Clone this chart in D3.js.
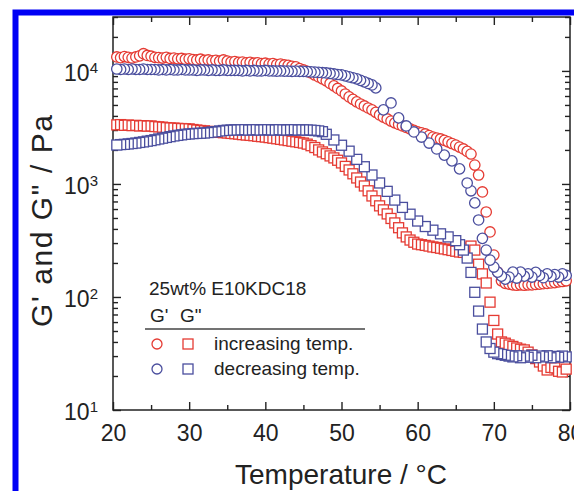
<!DOCTYPE html>
<html>
<head>
<meta charset="utf-8">
<script src="https://cdn.jsdelivr.net/npm/d3@7"></script>
<style>
  body { margin: 0; background: #fff; }
  svg { display: block; font-family: "Liberation Sans", Arial, Helvetica, sans-serif; }
</style>
</head>
<body>
<div id="app"></div>
<script>
// temperatures (°C) shared by all four runs
const temps = [
  20.5,21,21.5,22,22.5,23,23.5,24,24.5,25,
  25.5,26,26.5,27,27.5,28,28.5,29,29.5,30,
  30.5,31,31.5,32,32.5,33,33.5,34,34.5,35,
  35.5,36,36.5,37,37.5,38,38.5,39,39.5,40,
  40.5,41,41.5,42,42.5,43,43.5,44,44.5,45,
  45.5,46,46.5,47,47.5,48,48.5,49,49.5,50,
  50.5,51,51.5,52,52.5,53,53.5,54,54.5,55,
  55.5,56,56.5,57,57.5,58,58.5,59,59.5,60,
  60.5,61,61.5,62,62.5,63,63.5,64,64.5,65,
  65.5,66,66.5,67,67.5,68,68.5,69,69.5,70,
  70.5,71,71.5,72,72.5,73,73.5,74,74.5,75,
  75.5,76,76.5,77,77.5,78,78.5,79,79.5
];

// G' increasing temp. (Pa)
const gPrimeUp = [
  13300,13100,13400,13200,13000,13300,13600,14200,13700,13500,
  13200,13100,13000,13200,12900,13000,12800,12900,12700,12800,
  12600,12500,12700,12400,12500,12300,12400,12200,12500,12200,
  12000,12100,11900,12000,11800,11900,11700,11800,11600,11700,
  11500,11600,11400,11500,11300,11200,11000,10850,10500,10200,
  9900,9600,9200,8850,8500,8160,7750,7370,7000,6650,
  6250,5890,5600,5320,5100,4900,4700,4520,4300,4080,
  3900,3760,3600,3470,3360,3260,3160,3070,2980,2885,
  2830,2770,2680,2600,2550,2500,2430,2355,2280,2210,
  2120,2040,1940,1840,1470,1200,850,565,376,235,
  166,139,132,130,128,127,128,127,128,128,
  129,130,131,132,133,134,136,137,139
];

// G'' increasing temp. (Pa)
const gDoubleUp = [
  3330,3350,3300,3320,3280,3300,3260,3280,3250,3260,
  3220,3200,3180,3150,3130,3120,3100,3090,3080,3070,
  3030,3000,2970,2950,2920,2900,2880,2860,2840,2825,
  2800,2780,2760,2730,2710,2690,2670,2640,2620,2600,
  2570,2540,2510,2480,2450,2420,2390,2360,2330,2300,
  2250,2180,2100,2000,1920,1850,1770,1700,1620,1535,
  1430,1330,1230,1130,1040,960,870,783,710,640,
  590,543,495,452,410,369,340,319,305,294,
  290,286,282,277,274,270,266,262,258,254,
  250,248,271,282,260,195,160,133,90,62,
  47,40,39,37.6,36.5,35.4,34.5,34,32.5,30.7,
  28.5,26.6,24.5,22.6,23.8,23.6,22,21.7,23
];

// G' decreasing temp. (Pa), null = no point at that temperature
const gPrimeDown = [
  10400,10300,10400,10300,10400,10300,10300,10400,10300,10300,
  10300,10200,10300,10200,10300,10200,10200,10300,10200,10200,
  10200,10100,10200,10200,10100,10200,10100,10100,10200,10100,
  10100,10100,10100,10000,10100,10000,10100,10000,10000,10100,
  10000,10000,9950,10000,9950,9950,9900,9950,9900,9900,
  9850,9800,9750,9700,9650,9600,9500,9400,9300,9220,
  9050,8850,8700,8500,8250,8000,7750,7520,7080,null,
  4520,null,5210,null,3840,null,3260,null,2885,null,
  2600,null,2300,null,2040,null,1800,null,1600,null,
  1360,null,1020,870,680,480,330,260,212,184,
  166,153,144,150,166,147,166,153,160,150,
  165,155,148,160,152,158,150,160,155
];

// G'' decreasing temp. (Pa)
const gDoubleDown = [
  2210,2230,2240,2260,2280,2300,2330,2355,2390,2420,
  2460,2500,2540,2580,2620,2660,2690,2720,2750,2770,
  2790,2800,2810,2825,2850,2880,2900,2945,2970,2990,
  3000,3010,3020,3000,3010,3020,3000,3010,3020,3010,
  3000,3020,3010,3000,3010,3020,3000,3010,3000,3010,
  3000,2990,2970,2945,2900,2750,null,2450,null,2200,
  null,1950,null,1650,null,1420,null,1200,null,1020,
  null,860,null,720,null,620,null,540,null,470,
  null,420,null,390,null,362,null,340,null,315,
  290,260,221,165,110,75,52,40,35,32.5,
  31.5,31,30.5,30,29.5,30.2,29,30,29.3,30.5,
  29,30,29.5,30.2,29,29.8,29.3,30,29.5
];

const xTicks = [20, 30, 40, 50, 60, 70, 80];
const xMinorTicks = [25, 35, 45, 55, 65, 75];
const yDecades = [10, 100, 1000, 10000];
const yExponents = ["1", "2", "3", "4"];
const legendTitle = "25wt% E10KDC18";
const legendHead = ["G'", "G\""];
const legendRows = ["increasing temp.", "decreasing temp."];

const width = 574, height = 491;
const red = "#e53b33", blue = "#4a4e9e";

const svg = d3.select("#app").append("svg")
  .attr("width", width)
  .attr("height", height);

// blue frame around the figure
svg.append("rect")
  .attr("x", 15.5).attr("y", 12.5)
  .attr("width", 800).attr("height", 800)
  .attr("fill", "none")
  .attr("stroke", "#0000f5")
  .attr("stroke-width", 6);

const x = d3.scaleLinear().domain([20, 80]).range([113, 570]);
const y = d3.scaleLog().domain([10, 30000]).range([410, 17]);
const yMinor = y.ticks().filter(v => !yDecades.includes(v));

// axes, ticks pointing inward
function drawAxis(axis, tx, ty) {
  const g = svg.append("g").attr("transform", `translate(${tx},${ty})`).call(axis);
  g.select(".domain").remove();
  g.selectAll("line").attr("stroke", "#222").attr("stroke-width", 1.4);
  return g;
}

const xb = drawAxis(d3.axisBottom(x).tickValues(xTicks).tickSize(-8).tickPadding(15), 0, 410);
xb.selectAll("text").attr("font-size", 23).attr("fill", "#222").attr("font-family", null);
drawAxis(d3.axisBottom(x).tickValues(xMinorTicks).tickSize(-5).tickFormat(""), 0, 410);
drawAxis(d3.axisTop(x).tickValues(xTicks).tickSize(-8).tickFormat(""), 0, 17);
drawAxis(d3.axisTop(x).tickValues(xMinorTicks).tickSize(-5).tickFormat(""), 0, 17);

const yl = drawAxis(d3.axisLeft(y).tickValues(yDecades).tickSize(-8).tickFormat(""), 113, 0);
drawAxis(d3.axisLeft(y).tickValues(yMinor).tickSize(-5).tickFormat(""), 113, 0);
drawAxis(d3.axisRight(y).tickValues(yDecades).tickSize(-8).tickFormat(""), 570, 0);
drawAxis(d3.axisRight(y).tickValues(yMinor).tickSize(-5).tickFormat(""), 570, 0);

// 10^n labels
yl.selectAll(".tick text").remove();
yl.selectAll(".tick").each(function(d, i) {
  const t = d3.select(this).append("text")
    .attr("x", -15).attr("dy", "0.4em")
    .attr("text-anchor", "end")
    .attr("fill", "#222")
    .attr("font-size", 23);
  t.append("tspan").text("10");
  t.append("tspan").attr("dy", "-0.5em").attr("font-size", 15).text(yExponents[i]);
});

// plot frame
svg.append("rect")
  .attr("x", 113).attr("y", 17)
  .attr("width", 457).attr("height", 393)
  .attr("fill", "none")
  .attr("stroke", "#222")
  .attr("stroke-width", 1.5);

// axis titles
svg.append("text")
  .attr("x", 341).attr("y", 484)
  .attr("text-anchor", "middle")
  .attr("font-size", 28)
  .attr("fill", "#222")
  .text("Temperature / °C");

svg.append("text")
  .attr("transform", "translate(52,221) rotate(-90)")
  .attr("text-anchor", "middle")
  .attr("font-size", 30)
  .attr("textLength", 212)
  .attr("lengthAdjust", "spacing")
  .attr("fill", "#222")
  .text("G' and G\" / Pa");

// data points
function pts(vals, reverse) {
  const p = temps.map((t, i) => ({ t, v: vals[i] })).filter(d => d.v != null);
  return reverse ? p.reverse() : p;
}

const plot = svg.append("g");
function squares(data, color) {
  plot.append("g").selectAll("rect").data(data).join("rect")
    .attr("x", d => x(d.t) - 5).attr("y", d => y(d.v) - 5)
    .attr("width", 10).attr("height", 10)
    .attr("fill", "#fff").attr("stroke", color).attr("stroke-width", 1.3);
}
function circles(data, color) {
  plot.append("g").selectAll("circle").data(data).join("circle")
    .attr("cx", d => x(d.t)).attr("cy", d => y(d.v)).attr("r", 5.2)
    .attr("fill", "#fff").attr("stroke", color).attr("stroke-width", 1.3);
}
squares(pts(gDoubleUp, false), red);
squares(pts(gDoubleDown, true), blue);
circles(pts(gPrimeUp, false), red);
circles(pts(gPrimeDown, true), blue);

// legend
const lg = svg.append("g").attr("fill", "#222").attr("font-size", 19);
lg.append("text").attr("x", 149).attr("y", 295).text(legendTitle);
lg.append("text").attr("x", 150).attr("y", 322).text(legendHead[0]);
lg.append("text").attr("x", 180).attr("y", 322).text(legendHead[1]);
lg.append("line")
  .attr("x1", 145).attr("x2", 365).attr("y1", 329).attr("y2", 329)
  .attr("stroke", "#444").attr("stroke-width", 1.3);
[red, blue].forEach((c, i) => {
  const yy = 344 + i * 25;
  lg.append("circle").attr("cx", 157).attr("cy", yy).attr("r", 5)
    .attr("fill", "#fff").attr("stroke", c).attr("stroke-width", 1.3);
  lg.append("rect").attr("x", 183).attr("y", yy - 5).attr("width", 10).attr("height", 10)
    .attr("fill", "#fff").attr("stroke", c).attr("stroke-width", 1.3);
  lg.append("text").attr("x", 214).attr("y", yy + 6).text(legendRows[i]);
});
</script>
</body>
</html>
